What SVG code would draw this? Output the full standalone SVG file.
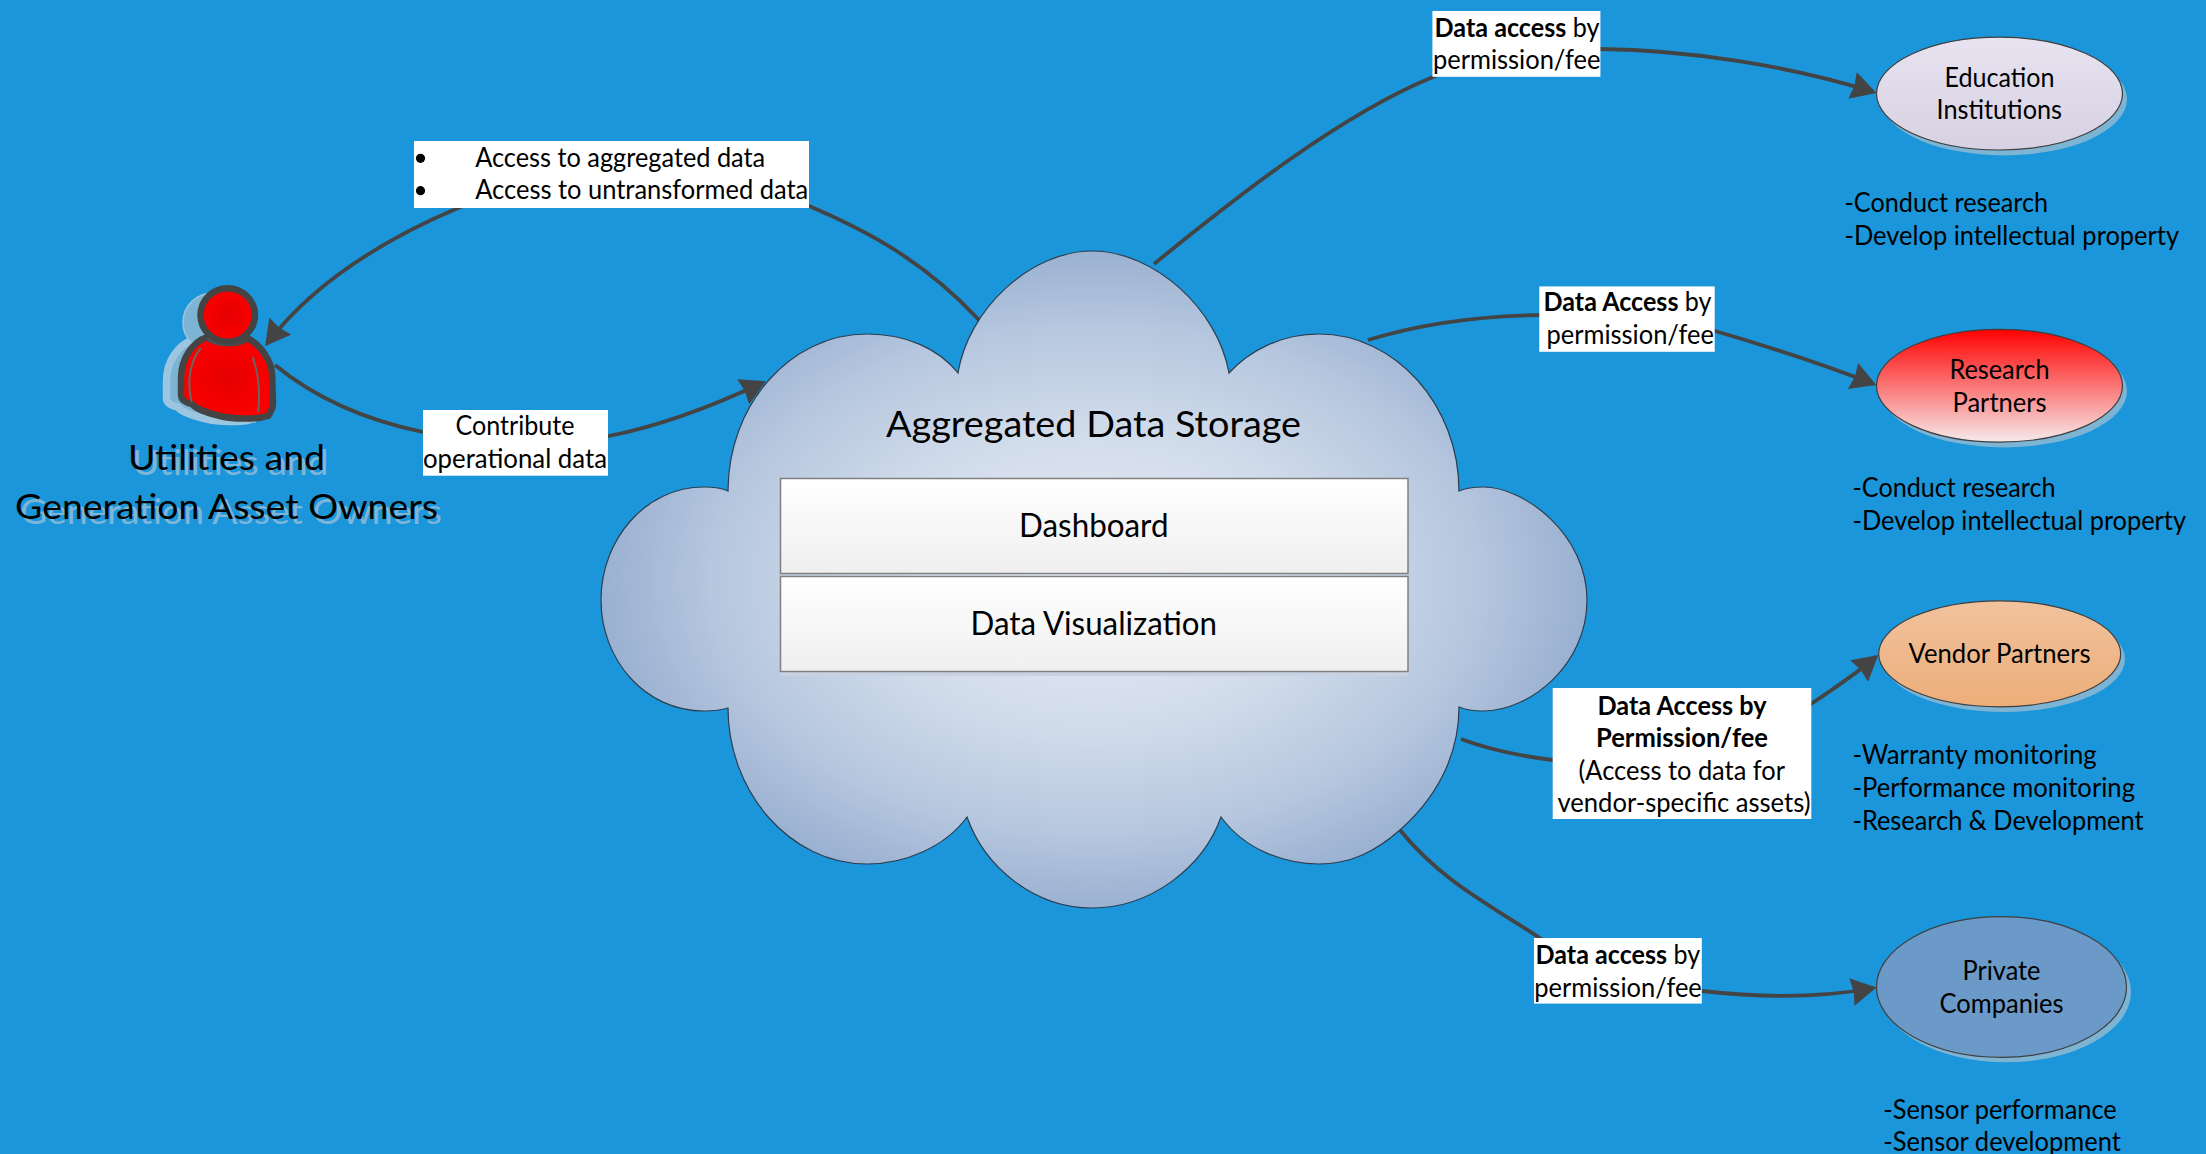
<svg xmlns="http://www.w3.org/2000/svg" xmlns:xlink="http://www.w3.org/1999/xlink" width="2206" height="1154" viewBox="0 0 2206 1154">
<style>
text{font-family:Lato,"Liberation Sans",sans-serif;fill:#000;font-size:26px;transform:translate(0,1.2px)}
.b{font-weight:700}
.big{font-size:37px}
.mid{font-size:32px}
.own{font-size:35px}
.own-s{font-size:35px;fill:#7db6d8}
.conn{fill:none;stroke:#444;stroke-width:3.8;marker-end:url(#arrow)}
.lab{fill:#fff}
.sh{fill:#7db4d4}
.ell{stroke:#3f3f3f;stroke-width:1.2}
.box{fill:url(#boxG);stroke:#808080;stroke-width:1.5}
</style>
<defs>
<marker id="arrow" markerUnits="userSpaceOnUse" markerWidth="30" markerHeight="30" refX="22" refY="14" orient="auto"><path d="M0,0 L25,14 L0,28 L2,14 Z" fill="#444"/></marker>
<radialGradient id="cloudG" cx=".5" cy=".5" r=".52"><stop offset="0" stop-color="#e8edf6"/><stop offset=".45" stop-color="#d0dbea"/><stop offset=".75" stop-color="#b5c6de"/><stop offset="1" stop-color="#96adcf"/></radialGradient>
<linearGradient id="boxG" x1="0" y1="0" x2="0" y2="1"><stop offset="0" stop-color="#fff"/><stop offset="1" stop-color="#efefef"/></linearGradient>
<linearGradient id="eduG" x1="0" y1="0" x2="0" y2="1"><stop offset="0" stop-color="#e7e3f0"/><stop offset="1" stop-color="#d7d1e3"/></linearGradient>
<linearGradient id="resG" x1="0" y1="0" x2="0" y2="1"><stop offset="0" stop-color="#ff0000"/><stop offset="1" stop-color="#f6eaea"/></linearGradient>
<linearGradient id="venG" x1="0" y1="0" x2="0" y2="1"><stop offset="0" stop-color="#f1c29d"/><stop offset="1" stop-color="#edae7a"/></linearGradient>
<radialGradient id="redG"><stop offset="0" stop-color="#e40000"/><stop offset="1" stop-color="#fc0000"/></radialGradient>
<path id="bodyP" d="M207,337 C193,342 181,358 181,378 L181,395 C181,400 186,403 192,404 C196,409 205,412 220,416 C232,419 245,419 258,418 C262,418 265,416 268,416 C271,412 273,408 273,403 L272,373 C271,362 262,345 247,338 C240,345 215,345 207,337 Z"/>
</defs>
<rect id="background" width="2206" height="1154" fill="#1b96da"/>

<g id="connectors">
<path class="conn" d="M979,320 C925,262 870,232 809,206 C700,165 560,165 458,208 C380,241 312,285 267,343.5"/>
<path class="conn" d="M275,365 C315,398 365,420 423,432 C490,446 550,448 609,436 C665,425 715,405 763,382.5"/>
<path class="conn" d="M1154,264 C1235,198 1340,115 1433,77 C1480,55 1540,48 1600,49 C1690,50 1790,66 1873.5,92"/>
<path class="conn" d="M1368,340 C1420,324 1480,316 1539,315 C1600,312 1660,315 1715,331 C1770,347 1825,365 1873.5,384"/>
<path class="conn" d="M1461,739 C1490,750 1520,756 1553,760 C1640,780 1750,750 1811,704 C1835,688 1858,672 1876,657"/>
<path class="conn" d="M1400,830 C1440,880 1490,905 1540,938 C1590,975 1650,985 1702,991 C1755,997 1815,999 1873.5,988"/>
</g>

<g id="cloud">
<path d="M958,373 C968,310 1030,251 1092,251 C1155,251 1218,310 1229,373 C1250,350 1282,334 1319,334 C1395,334 1459,405 1459,491 C1466,488 1475,487 1483,487 C1525,487 1587,535 1587,600 C1587,665 1530,711 1483,711 C1475,711 1466,710 1459,707 C1459,745 1445,790 1400,830 C1375,852 1350,864 1319,864 C1285,864 1245,850 1221,817 C1203,868 1150,908 1092,908 C1035,908 985,868 967,817 C945,847 905,864 867,864 C790,864 728,792 728,708 C722,710 712,711 704,711 C645,711 601,660 601,600 C601,540 645,487 704,487 C712,487 722,488 728,491 C728,405 790,334 867,334 C905,334 938,348 958,373 Z" fill="url(#cloudG)" stroke="#2c3e50" stroke-width="1.2"/>
<text class="big" x="886" y="436" textLength="415" lengthAdjust="spacingAndGlyphs">Aggregated Data Storage</text>
</g>
<g id="dashboard">
<rect class="box" x="780.5" y="478.5" width="627.5" height="95"/>
<text class="mid" x="1019" y="536" textLength="149.5" lengthAdjust="spacingAndGlyphs">Dashboard</text>
</g>
<g id="data-visualization">
<rect x="780.5" y="578" width="627.5" height="98" fill="#c9d2e2"/>
<rect class="box" x="780.5" y="576.5" width="627.5" height="95"/>
<text class="mid" x="970.5" y="634" textLength="246.5" lengthAdjust="spacingAndGlyphs">Data Visualization</text>
</g>

<g id="owners">
<g fill="#7db4d4" stroke="#9cc6df" stroke-width="1.5">
<use xlink:href="#bodyP" href="#bodyP" transform="translate(-14.5,3)" stroke-width="7.5"/>
<ellipse cx="213" cy="322.5" rx="30" ry="29.5"/>
</g>
<use xlink:href="#bodyP" href="#bodyP" fill="url(#redG)" stroke="#444" stroke-width="6.5" stroke-linejoin="round"/>
<path d="M208,338 C215,347 238,347 245,338" fill="none" stroke="#555" stroke-width="2.2"/>
<path d="M200.7,348 C191,360 186,380 191.7,402 M252.7,357 C259,375 260,390 258.3,412" fill="none" stroke="#666" stroke-width="2"/>
<ellipse cx="227.7" cy="315" rx="27.2" ry="26.8" fill="url(#redG)" stroke="#444" stroke-width="6.5"/>
<text class="own-s" x="132" y="473.5" textLength="196.5" lengthAdjust="spacingAndGlyphs">Utilities and</text>
<text class="own-s" x="20" y="523" textLength="422" lengthAdjust="spacingAndGlyphs">Generation Asset Owners</text>
<text class="own" x="128" y="469" textLength="197" lengthAdjust="spacingAndGlyphs">Utilities and</text>
<text class="own" x="15" y="518" textLength="423" lengthAdjust="spacingAndGlyphs">Generation Asset Owners</text>
</g>

<g id="education">
<ellipse class="sh" cx="2004" cy="99" rx="123" ry="56.4"/>
<ellipse class="ell" cx="1999.5" cy="93.6" rx="123" ry="56.4" fill="url(#eduG)"/>
<text x="1944.5" y="85.7" textLength="110" lengthAdjust="spacingAndGlyphs">Education</text>
<text x="1936.5" y="118" textLength="125.5" lengthAdjust="spacingAndGlyphs">Institutions</text>
<text x="1844.5" y="210.7" textLength="203.5" lengthAdjust="spacingAndGlyphs">-Conduct research</text>
<text x="1844.5" y="243.6" textLength="334.5" lengthAdjust="spacingAndGlyphs">-Develop intellectual property</text>
</g>
<g id="research">
<ellipse class="sh" cx="2004" cy="391" rx="123" ry="56.4"/>
<ellipse class="ell" cx="1999.5" cy="385.7" rx="123" ry="56.4" fill="url(#resG)"/>
<text x="1949.5" y="378" textLength="100" lengthAdjust="spacingAndGlyphs">Research</text>
<text x="1952.5" y="410.7" textLength="94" lengthAdjust="spacingAndGlyphs">Partners</text>
<text x="1852.5" y="495.7" textLength="203" lengthAdjust="spacingAndGlyphs">-Conduct research</text>
<text x="1852.5" y="528.6" textLength="333.5" lengthAdjust="spacingAndGlyphs">-Develop intellectual property</text>
</g>
<g id="vendor">
<ellipse class="sh" cx="2004" cy="659" rx="121" ry="53"/>
<ellipse class="ell" cx="1999.7" cy="653.8" rx="121" ry="53" fill="url(#venG)"/>
<text x="1908.5" y="662.3" textLength="182" lengthAdjust="spacingAndGlyphs">Vendor Partners</text>
<text x="1852.5" y="762.5" textLength="244.2" lengthAdjust="spacingAndGlyphs">-Warranty monitoring</text>
<text x="1852.5" y="795.5" textLength="282.5" lengthAdjust="spacingAndGlyphs">-Performance monitoring</text>
<text x="1852.5" y="829" textLength="291" lengthAdjust="spacingAndGlyphs">-Research &amp; Development</text>
</g>
<g id="private">
<ellipse class="sh" cx="2006" cy="992" rx="125" ry="70.3"/>
<ellipse class="ell" cx="2001.5" cy="987" rx="125" ry="70.3" fill="#6b9ac8"/>
<text x="1962.5" y="978.6" textLength="78" lengthAdjust="spacingAndGlyphs">Private</text>
<text x="1939.5" y="1011.5" textLength="124" lengthAdjust="spacingAndGlyphs">Companies</text>
<text x="1883.3" y="1117.7" textLength="233.5" lengthAdjust="spacingAndGlyphs">-Sensor performance</text>
<text x="1883.3" y="1150" textLength="237.5" lengthAdjust="spacingAndGlyphs">-Sensor development</text>
</g>

<g id="connector-labels">
<g id="label-access">
<rect class="lab" x="414" y="141" width="395" height="67"/>
<circle cx="420.5" cy="158.3" r="4.6"/><circle cx="420.5" cy="190.7" r="4.6"/>
<text x="475.2" y="165.7" textLength="290" lengthAdjust="spacingAndGlyphs">Access to aggregated data</text>
<text x="475.2" y="198.3" textLength="333" lengthAdjust="spacingAndGlyphs">Access to untransformed data</text>
</g>
<g id="label-contribute">
<rect class="lab" x="423" y="410" width="185" height="65.7"/>
<text x="455.5" y="434" textLength="119" lengthAdjust="spacingAndGlyphs">Contribute</text>
<text x="423" y="466.7" textLength="184" lengthAdjust="spacingAndGlyphs">operational data</text>
</g>
<g id="label-edu">
<rect class="lab" x="1432.4" y="11" width="168" height="65.8"/>
<text x="1434.5" y="35.7" textLength="165" lengthAdjust="spacingAndGlyphs"><tspan class="b">Data access</tspan> by</text>
<text x="1433" y="67.9" textLength="167.5" lengthAdjust="spacingAndGlyphs">permission/fee</text>
</g>
<g id="label-res">
<rect class="lab" x="1539.3" y="286.4" width="175.4" height="65.4"/>
<text x="1543.5" y="309.6" textLength="168" lengthAdjust="spacingAndGlyphs"><tspan class="b">Data Access</tspan> by</text>
<text x="1546.5" y="342.9" textLength="167.5" lengthAdjust="spacingAndGlyphs">permission/fee</text>
</g>
<g id="label-ven">
<rect class="lab" x="1552.7" y="688" width="258.6" height="131"/>
<text class="b" x="1597.5" y="713.4" textLength="169" lengthAdjust="spacingAndGlyphs">Data Access by</text>
<text class="b" x="1596" y="745.6" textLength="172" lengthAdjust="spacingAndGlyphs">Permission/fee</text>
<text x="1578.5" y="779" textLength="206.5" lengthAdjust="spacingAndGlyphs">(Access to data for</text>
<text x="1557.5" y="811" textLength="253" lengthAdjust="spacingAndGlyphs">vendor-specific assets)</text>
</g>
<g id="label-pri">
<rect class="lab" x="1534" y="938" width="167.8" height="65.6"/>
<text x="1535.5" y="962.7" textLength="164.7" lengthAdjust="spacingAndGlyphs"><tspan class="b">Data access</tspan> by</text>
<text x="1534.3" y="995.6" textLength="167.5" lengthAdjust="spacingAndGlyphs">permission/fee</text>
</g>
</g>
</svg>
